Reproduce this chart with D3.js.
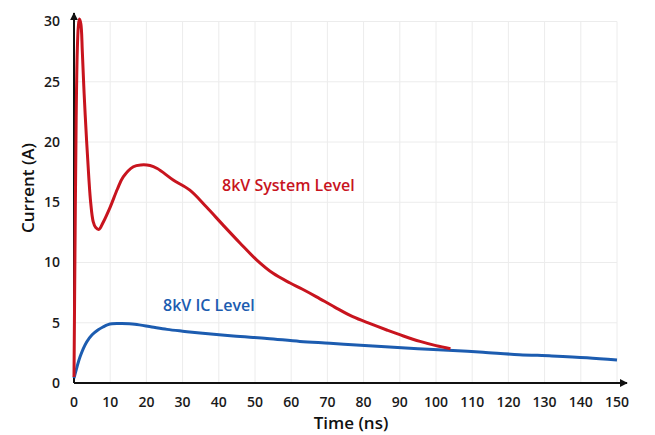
<!DOCTYPE html>
<html>
<head>
<meta charset="utf-8">
<script src="https://cdn.jsdelivr.net/npm/d3@7"></script>
<style>
  body { margin: 0; background: #fff; }
  text { font-family: "Open Sans", "Noto Sans", sans-serif; }
</style>
</head>
<body>
<div id="chart"></div>
<script>
// time (ns) and current (A)
let systemTime = [0, 0.3, 0.6, 0.9, 1.2, 1.5, 1.9, 2.3, 2.8, 3.5, 4.1, 4.6, 5.3, 6.0, 6.9, 8, 10, 12, 13.6, 16.4, 18.5, 21, 23, 27.4, 32, 36.6, 41.2, 45.9, 50.5, 55, 59.7, 63, 67, 72, 77, 82, 86.4, 91, 95.6, 100, 104];
let systemCurrent = [0.5, 12, 22, 27.5, 29.6, 30.2, 29.8, 27.5, 24, 20, 17, 15, 13.4, 12.9, 12.75, 13.3, 14.6, 16.1, 17.1, 17.95, 18.1, 18.05, 17.8, 16.85, 16.0, 14.6, 13.1, 11.6, 10.2, 9.1, 8.3, 7.8, 7.15, 6.3, 5.5, 4.9, 4.4, 3.9, 3.45, 3.1, 2.85];

let icTime = [0, 0.8, 1.7, 3.5, 5, 6.6, 8, 9.4, 10.5, 13, 16.8, 21.5, 25.7, 30, 34.8, 44, 53.3, 62.4, 70.7, 78, 86, 95, 104.7, 113, 123, 132, 141.7, 150];
let icCurrent = [0.4, 1.3, 2.2, 3.4, 4.0, 4.4, 4.65, 4.85, 4.92, 4.93, 4.88, 4.65, 4.45, 4.3, 4.15, 3.9, 3.7, 3.45, 3.3, 3.15, 3.0, 2.85, 2.7, 2.55, 2.35, 2.25, 2.1, 1.9];

let xTicks = d3.range(0, 151, 10);
let yTicks = [0, 5, 10, 15, 20, 25, 30];

let width = 655,
  height = 435;

let svg = d3.select('#chart').append('svg')
  .attr('width', width)
  .attr('height', height);

let xScale = d3.scaleLinear()
  .domain([0, 150])
  .range([74, 617]);

let yScale = d3.scaleLinear()
  .domain([0, 30])
  .range([383, 21.5]);

// grid
svg.append('g').selectAll('line.vgrid')
  .data(xTicks.slice(1)).enter()
  .append('line')
  .attr('class', 'vgrid')
  .attr('x1', (d) => xScale(d))
  .attr('x2', (d) => xScale(d))
  .attr('y1', yScale(0))
  .attr('y2', yScale(30))
  .attr('stroke', '#ececec')
  .attr('stroke-width', 1);

svg.append('g').selectAll('line.hgrid')
  .data(yTicks.slice(1)).enter()
  .append('line')
  .attr('class', 'hgrid')
  .attr('x1', xScale(0))
  .attr('x2', xScale(150))
  .attr('y1', (d) => yScale(d))
  .attr('y2', (d) => yScale(d))
  .attr('stroke', '#ececec')
  .attr('stroke-width', 1);

// axes with arrows
let defs = svg.append('defs');
defs.append('marker')
  .attr('id', 'arrow')
  .attr('viewBox', '0 0 10 10')
  .attr('refX', 9)
  .attr('refY', 5)
  .attr('markerWidth', 4)
  .attr('markerHeight', 4)
  .attr('orient', 'auto')
  .append('path')
  .attr('d', 'M0,0 L10,5 L0,10 z')
  .attr('fill', '#111');

svg.append('line')
  .attr('x1', xScale(0))
  .attr('x2', 627)
  .attr('y1', yScale(0))
  .attr('y2', yScale(0))
  .attr('stroke', '#111')
  .attr('stroke-width', 2)
  .attr('marker-end', 'url(#arrow)');

svg.append('line')
  .attr('x1', xScale(0))
  .attr('x2', xScale(0))
  .attr('y1', yScale(0))
  .attr('y2', 13)
  .attr('stroke', '#111')
  .attr('stroke-width', 2)
  .attr('marker-end', 'url(#arrow)');

// tick labels
svg.append('g').selectAll('text.xtick')
  .data(xTicks).enter()
  .append('text')
  .attr('class', 'xtick')
  .attr('x', (d) => xScale(d))
  .attr('y', 407)
  .attr('text-anchor', 'middle')
  .attr('fill', '#1a1a1a')
  .style('font-size', '14px')
  .style('font-weight', 600)
  .text((d) => d);

svg.append('g').selectAll('text.ytick')
  .data(yTicks).enter()
  .append('text')
  .attr('class', 'ytick')
  .attr('x', 60)
  .attr('y', (d) => yScale(d))
  .attr('dy', '0.35em')
  .attr('text-anchor', 'end')
  .attr('fill', '#1a1a1a')
  .style('font-size', '14px')
  .style('font-weight', 600)
  .text((d) => d);

// axis titles
svg.append('text')
  .attr('x', 351)
  .attr('y', 429)
  .attr('text-anchor', 'middle')
  .attr('fill', '#111')
  .style('font-size', '17px')
  .style('font-weight', 600)
  .text('Time (ns)');

svg.append('text')
  .attr('transform', 'translate(34,188) rotate(-90)')
  .attr('text-anchor', 'middle')
  .attr('fill', '#111')
  .style('font-size', '17px')
  .style('font-weight', 600)
  .text('Current (A)');

// curves
let line = d3.line()
  .x((d) => xScale(d[0]))
  .y((d) => yScale(d[1]))
  .curve(d3.curveCatmullRom);

svg.append('path')
  .datum(icTime.map((t, i) => [t, icCurrent[i]]))
  .attr('d', line)
  .attr('fill', 'none')
  .attr('stroke', '#1c5cb0')
  .attr('stroke-width', 3);

svg.append('path')
  .datum(systemTime.map((t, i) => [t, systemCurrent[i]]))
  .attr('d', line)
  .attr('fill', 'none')
  .attr('stroke', '#c8141e')
  .attr('stroke-width', 3);

// series labels
svg.append('text')
  .attr('x', 222)
  .attr('y', 191)
  .attr('fill', '#c8141e')
  .style('font-size', '16px')
  .style('font-weight', 600)
  .text('8kV System Level');

svg.append('text')
  .attr('x', 163)
  .attr('y', 311)
  .attr('fill', '#1c5cb0')
  .style('font-size', '16px')
  .style('font-weight', 600)
  .text('8kV IC Level');
</script>
</body>
</html>
